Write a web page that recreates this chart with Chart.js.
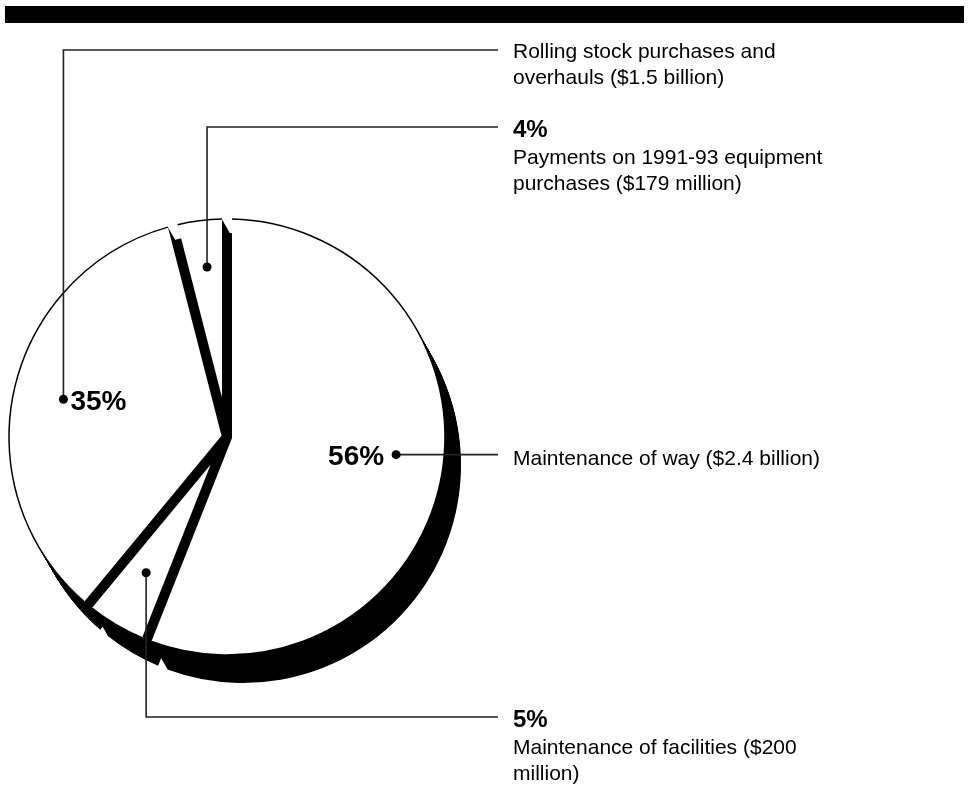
<!DOCTYPE html>
<html>
<head>
<meta charset="utf-8">
<script src="https://cdn.jsdelivr.net/npm/chart.js@4.4.1/dist/chart.umd.min.js"></script>
<style>
  html, body { margin: 0; background: #fff; }
  #wrap { position: relative; width: 969px; height: 786px; overflow: hidden; }
  #bar { position: absolute; left: 5px; top: 6px; width: 959px; height: 17px; background: #000; }
  canvas { position: absolute; left: 0; top: 0; }
</style>
</head>
<body>
<div id="wrap">
  <div id="bar"></div>
  <canvas id="budgetPie" width="969" height="786"></canvas>
</div>
<script>
// slices, clockwise from 12 o'clock
const categories = [
  ["Maintenance of way ($2.4 billion)"],
  ["Maintenance of facilities ($200", "million)"],
  ["Rolling stock purchases and", "overhauls ($1.5 billion)"],
  ["Payments on 1991-93 equipment", "purchases ($179 million)"]
];
const shares = [56, 5, 35, 4];

// drawing settings
const FONT = '"Liberation Sans", Arial, Helvetica, sans-serif';
const GAP = 10;            // gap between slices
const DEPTH_X = 16, DEPTH_Y = 28, STEPS = 40;
const TEXT_X = 513, LINE_END = 498;

// where the callout dot sits in each slice (fraction of angle, fraction of radius)
// and where its leader line turns / label goes
const callouts = [
  { along: 0.476, radial: 0.78, elbowY: null, pct: "inside-left" },
  { along: 0.51,  radial: 0.725, elbowY: 717, pct: "head" },
  { along: 0.503, radial: 0.77, elbowY: 50,  pct: "inside-right" },
  { along: 0.535, radial: 0.785, elbowY: 127, pct: "head" }
];

function wedge(ctx, a, dx, dy) {
  const h = GAP / 2;
  const half = (a.endAngle - a.startAngle) / 2;
  const mid = a.startAngle + half;
  const d = h / Math.sin(half);
  const da = Math.asin(h / a.outerRadius);
  const cx = a.x + dx, cy = a.y + dy;
  ctx.beginPath();
  ctx.moveTo(cx + d * Math.cos(mid), cy + d * Math.sin(mid));
  ctx.arc(cx, cy, a.outerRadius, a.startAngle + da, a.endAngle - da);
  ctx.closePath();
}

const cutPie = {
  id: "cutPie",
  beforeDatasetDraw(chart, args) {
    const ctx = chart.ctx;
    const arcs = args.meta.data.map(el => el.getProps(["x", "y", "startAngle", "endAngle", "outerRadius"], true));
    ctx.save();
    // solid black depth under the slices
    ctx.fillStyle = "#000";
    for (let i = STEPS; i >= 1; i--) {
      const t = i / STEPS;
      arcs.forEach(a => { wedge(ctx, a, DEPTH_X * t, DEPTH_Y * t); ctx.fill(); });
    }
    // gaps stay dark down to the centre
    const a0 = arcs[0];
    ctx.beginPath();
    ctx.arc(a0.x, a0.y, a0.outerRadius - 14, 0, Math.PI * 2);
    ctx.fill();
    // white tops
    ctx.fillStyle = "#fff";
    arcs.forEach(a => { wedge(ctx, a, 0, 0); ctx.fill(); });
    ctx.strokeStyle = "#000";
    ctx.lineWidth = 1.5;
    arcs.forEach(a => {
      const da = Math.asin(GAP / 2 / a.outerRadius);
      ctx.beginPath();
      ctx.arc(a.x, a.y, a.outerRadius, a.startAngle + da, a.endAngle - da);
      ctx.stroke();
    });
    ctx.restore();
    return false;
  },
  afterDatasetsDraw(chart) {
    const ctx = chart.ctx;
    const meta = chart.getDatasetMeta(0);
    ctx.save();
    meta.data.forEach((el, i) => {
      const a = el.getProps(["x", "y", "startAngle", "endAngle", "outerRadius"], true);
      const c = callouts[i];
      const ang = a.startAngle + (a.endAngle - a.startAngle) * c.along;
      const px = a.x + Math.cos(ang) * a.outerRadius * c.radial;
      const py = a.y + Math.sin(ang) * a.outerRadius * c.radial;

      // leader line
      ctx.strokeStyle = "#222";
      ctx.lineWidth = 1.6;
      ctx.beginPath();
      ctx.moveTo(px, py);
      let ly = py;
      if (c.elbowY !== null) { ctx.lineTo(px, c.elbowY); ly = c.elbowY; }
      ctx.lineTo(LINE_END, ly);
      ctx.stroke();

      ctx.fillStyle = "#000";
      ctx.beginPath();
      ctx.arc(px, py, 4.5, 0, Math.PI * 2);
      ctx.fill();

      const pctText = shares[i] + "%";
      ctx.textBaseline = "middle";
      let ty = ly + 3;
      if (c.pct === "head") {
        ctx.font = "bold 24px " + FONT;
        ctx.textAlign = "left";
        ctx.fillText(pctText, TEXT_X, ty);
        ty += 28;
      } else if (c.pct === "inside-left") {
        ctx.font = "bold 28px " + FONT;
        ctx.textAlign = "right";
        ctx.fillText(pctText, px - 12, py + 3);
        ty = ly + 5;
      } else {
        ctx.font = "bold 28px " + FONT;
        ctx.textAlign = "left";
        ctx.fillText(pctText, px + 7, py + 3);
        ty = ly + 2;
      }
      ctx.font = "21px " + FONT;
      ctx.textAlign = "left";
      categories[i].forEach((line, k) => ctx.fillText(line, TEXT_X, ty + k * 26));
    });
    ctx.restore();
  }
};

new Chart(document.getElementById("budgetPie"), {
  type: "pie",
  data: {
    labels: categories,
    datasets: [{
      data: shares,
      backgroundColor: "#fff",
      borderWidth: 0
    }]
  },
  options: {
    responsive: false,
    animation: false,
    radius: 218,
    layout: { padding: { left: 0, right: 515, top: 88, bottom: 0 } },
    plugins: {
      legend: { display: false },
      tooltip: { enabled: false }
    }
  },
  plugins: [cutPie]
});
</script>
</body>
</html>
